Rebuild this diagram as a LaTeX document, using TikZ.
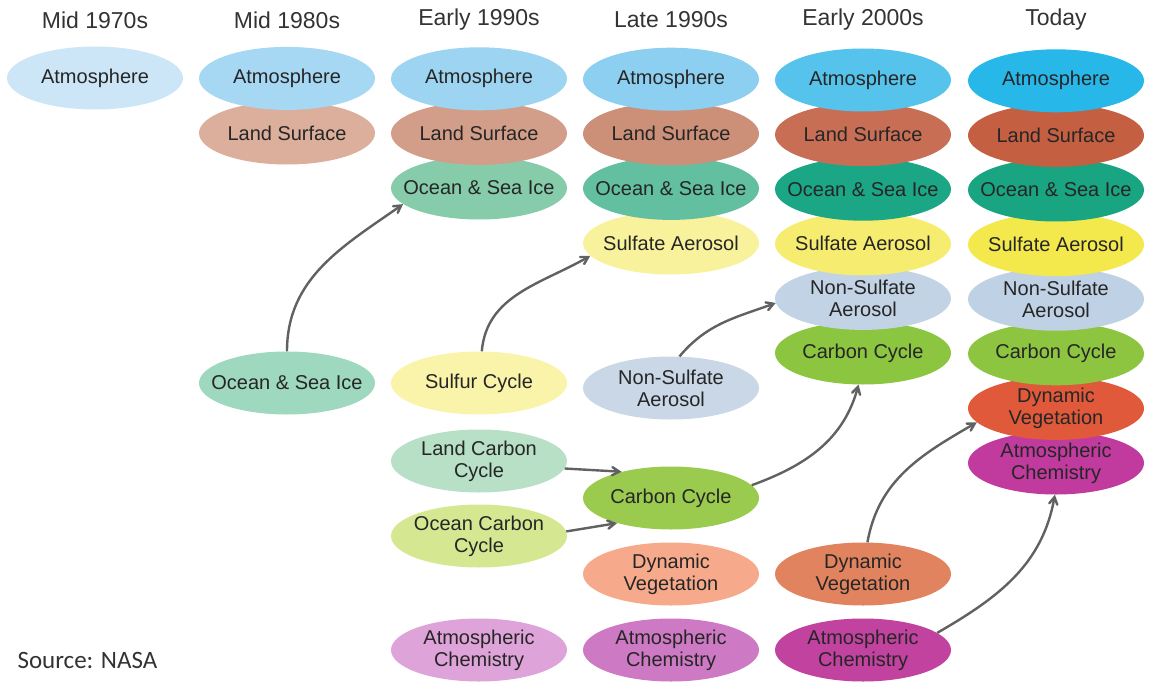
\documentclass[tikz,border=0pt]{standalone}
\usepackage{fontspec}
\setmainfont{Liberation Sans}
\newfontfamily\srcfont{Carlito}
\usetikzlibrary{arrows,positioning,shapes}

\definecolor{atm1}{HTML}{CDE6F7}
\definecolor{atm2}{HTML}{A6D7F3}
\definecolor{atm3}{HTML}{9DD4F1}
\definecolor{atm4}{HTML}{8DCFF0}
\definecolor{atm5}{HTML}{55C3EC}
\definecolor{atm6}{HTML}{27B7E9}
\definecolor{land2}{HTML}{DCAE9C}
\definecolor{land3}{HTML}{D39E89}
\definecolor{land4}{HTML}{CC8F78}
\definecolor{land5}{HTML}{C86E55}
\definecolor{land6}{HTML}{C55F42}
\definecolor{ocean2}{HTML}{9DD8BF}
\definecolor{ocean3}{HTML}{86CCAB}
\definecolor{ocean4}{HTML}{62C0A0}
\definecolor{ocean5}{HTML}{1BA685}
\definecolor{ocean6}{HTML}{19A582}
\definecolor{sulf3}{HTML}{F9F4AA}
\definecolor{sulf4}{HTML}{F8F29C}
\definecolor{sulf5}{HTML}{F6ED70}
\definecolor{sulf6}{HTML}{F3E94C}
\definecolor{nons4}{HTML}{C9D7E6}
\definecolor{nons5}{HTML}{C2D3E6}
\definecolor{nons6}{HTML}{BFD1E4}
\definecolor{lcarb}{HTML}{B7E0C6}
\definecolor{ocarb}{HTML}{D6E792}
\definecolor{carb4}{HTML}{9ACB4E}
\definecolor{carb5}{HTML}{8CC540}
\definecolor{carb6}{HTML}{8DC540}
\definecolor{veg4}{HTML}{F6AA8B}
\definecolor{veg5}{HTML}{E2835F}
\definecolor{veg6}{HTML}{E0593A}
\definecolor{chem3}{HTML}{DEA3D8}
\definecolor{chem4}{HTML}{CD79C3}
\definecolor{chem5}{HTML}{C2429F}
\definecolor{chem6}{HTML}{C13A9D}

\begin{document}
\begin{tikzpicture}[x=1pt,y=-1pt]
	\tikzstyle{comp}=[ellipse, inner xsep=-70pt, inner ysep=-25pt, minimum width=176pt, minimum height=63pt, align=center, text=black!85, font=\fontsize{20}{22}\selectfont]
	\tikzstyle{hdr}=[text=black!80, font=\fontsize{23}{26}\selectfont]
	\tikzstyle{link}=[->, >=angle 60, draw=black!62, line width=2.4pt]

	\useasboundingbox (0,0) rectangle (1151,685);

	\node[hdr] (h1) at (95,20) {Mid 1970s};
	\node[hdr] (h2) at (287,20) {Mid 1980s};
	\node[hdr] (h3) at (479,20) {Early 1990s};
	\node[hdr] (h4) at (671,20) {Late 1990s};
	\node[hdr] (h5) at (863,20) {Early 2000s};
	\node[hdr] (h6) at (1056,20) {Today};

	% stacks, drawn bottom up
	\node[comp, fill=atm1] (atmA) at (95,78) {Atmosphere};

	\node[comp, fill=land2] (landB) at (287,133) {Land Surface};
	\node[comp, fill=atm2] (atmB) [above=-8.8pt of landB] {Atmosphere};

	\node[comp, fill=ocean3] (oceanC) at (479,188) {Ocean \& Sea Ice};
	\node[comp, fill=land3] (landC) [above=-8.8pt of oceanC] {Land Surface};
	\node[comp, fill=atm3] (atmC) [above=-8.8pt of landC] {Atmosphere};

	\node[comp, fill=sulf4] (sulfD) at (671,243) {Sulfate Aerosol};
	\node[comp, fill=ocean4] (oceanD) [above=-8.8pt of sulfD] {Ocean \& Sea Ice};
	\node[comp, fill=land4] (landD) [above=-8.8pt of oceanD] {Land Surface};
	\node[comp, fill=atm4] (atmD) [above=-8.8pt of landD] {Atmosphere};

	\node[comp, fill=carb5] (carbE) at (863,353) {Carbon Cycle};
	\node[comp, fill=nons5] (nonsE) [above=-8.8pt of carbE] {Non-Sulfate\\Aerosol};
	\node[comp, fill=sulf5] (sulfE) [above=-8.8pt of nonsE] {Sulfate Aerosol};
	\node[comp, fill=ocean5] (oceanE) [above=-8.8pt of sulfE] {Ocean \& Sea Ice};
	\node[comp, fill=land5] (landE) [above=-8.8pt of oceanE] {Land Surface};
	\node[comp, fill=atm5] (atmE) [above=-8.8pt of landE] {Atmosphere};

	\node[comp, fill=chem6] (chemF) at (1056,463) {Atmospheric\\Chemistry};
	\node[comp, fill=veg6] (vegF) [above=-8.8pt of chemF] {Dynamic\\Vegetation};
	\node[comp, fill=carb6] (carbF) [above=-8.8pt of vegF] {Carbon Cycle};
	\node[comp, fill=nons6] (nonsF) [above=-8.8pt of carbF] {Non-Sulfate\\Aerosol};
	\node[comp, fill=sulf6] (sulfF) [above=-8.8pt of nonsF] {Sulfate Aerosol};
	\node[comp, fill=ocean6] (oceanF) [above=-8.8pt of sulfF] {Ocean \& Sea Ice};
	\node[comp, fill=land6] (landF) [above=-8.8pt of oceanF] {Land Surface};
	\node[comp, fill=atm6] (atmF) [above=-8.8pt of landF] {Atmosphere};

	% new components
	\node[comp, fill=ocean2] (oceanB) at (287,383) {Ocean \& Sea Ice};
	\node[comp, fill=sulf3] (sulfurC) at (479,383) {Sulfur Cycle};
	\node[comp, fill=nons4] (nonsD) at (671,388) {Non-Sulfate\\Aerosol};
	\node[comp, fill=lcarb] (lcarbC) at (479,461) {Land Carbon\\Cycle};
	\node[comp, fill=carb4] (carbD) at (671,498) {Carbon Cycle};
	\node[comp, fill=ocarb] (ocarbC) at (479,536) {Ocean Carbon\\Cycle};
	\node[comp, fill=veg4] (vegD) at (671,574) {Dynamic\\Vegetation};
	\node[comp, fill=veg5] (vegE) at (863,574) {Dynamic\\Vegetation};
	\node[comp, fill=chem3] (chemC) at (479,650) {Atmospheric\\Chemistry};
	\node[comp, fill=chem4] (chemD) at (671,650) {Atmospheric\\Chemistry};
	\node[comp, fill=chem5] (chemE) at (863,650) {Atmospheric\\Chemistry};

	\node[anchor=west, text=black!80, font=\srcfont\fontsize{25}{28}\selectfont] (src) at (14,660) {Source: NASA};

	\draw[link] (oceanB.north) to[out=90,in=215] (oceanC.192);
	\draw[link] (sulfurC.85) to[out=85,in=210] (sulfD.189);
	\draw[link] (nonsD.75) to[out=50,in=200] (nonsE.183);
	\draw[link] (lcarbC.355) -- (carbD.152);
	\draw[link] (ocarbC.3) -- (carbD.205);
	\draw[link] (carbD.9) to[out=20,in=255] (carbE.262);
	\draw[link] (vegE.82) to[out=80,in=210] (vegF.190);
	\draw[link] (chemE.13) to[out=30,in=260] (chemF.268);
\end{tikzpicture}
\end{document}
